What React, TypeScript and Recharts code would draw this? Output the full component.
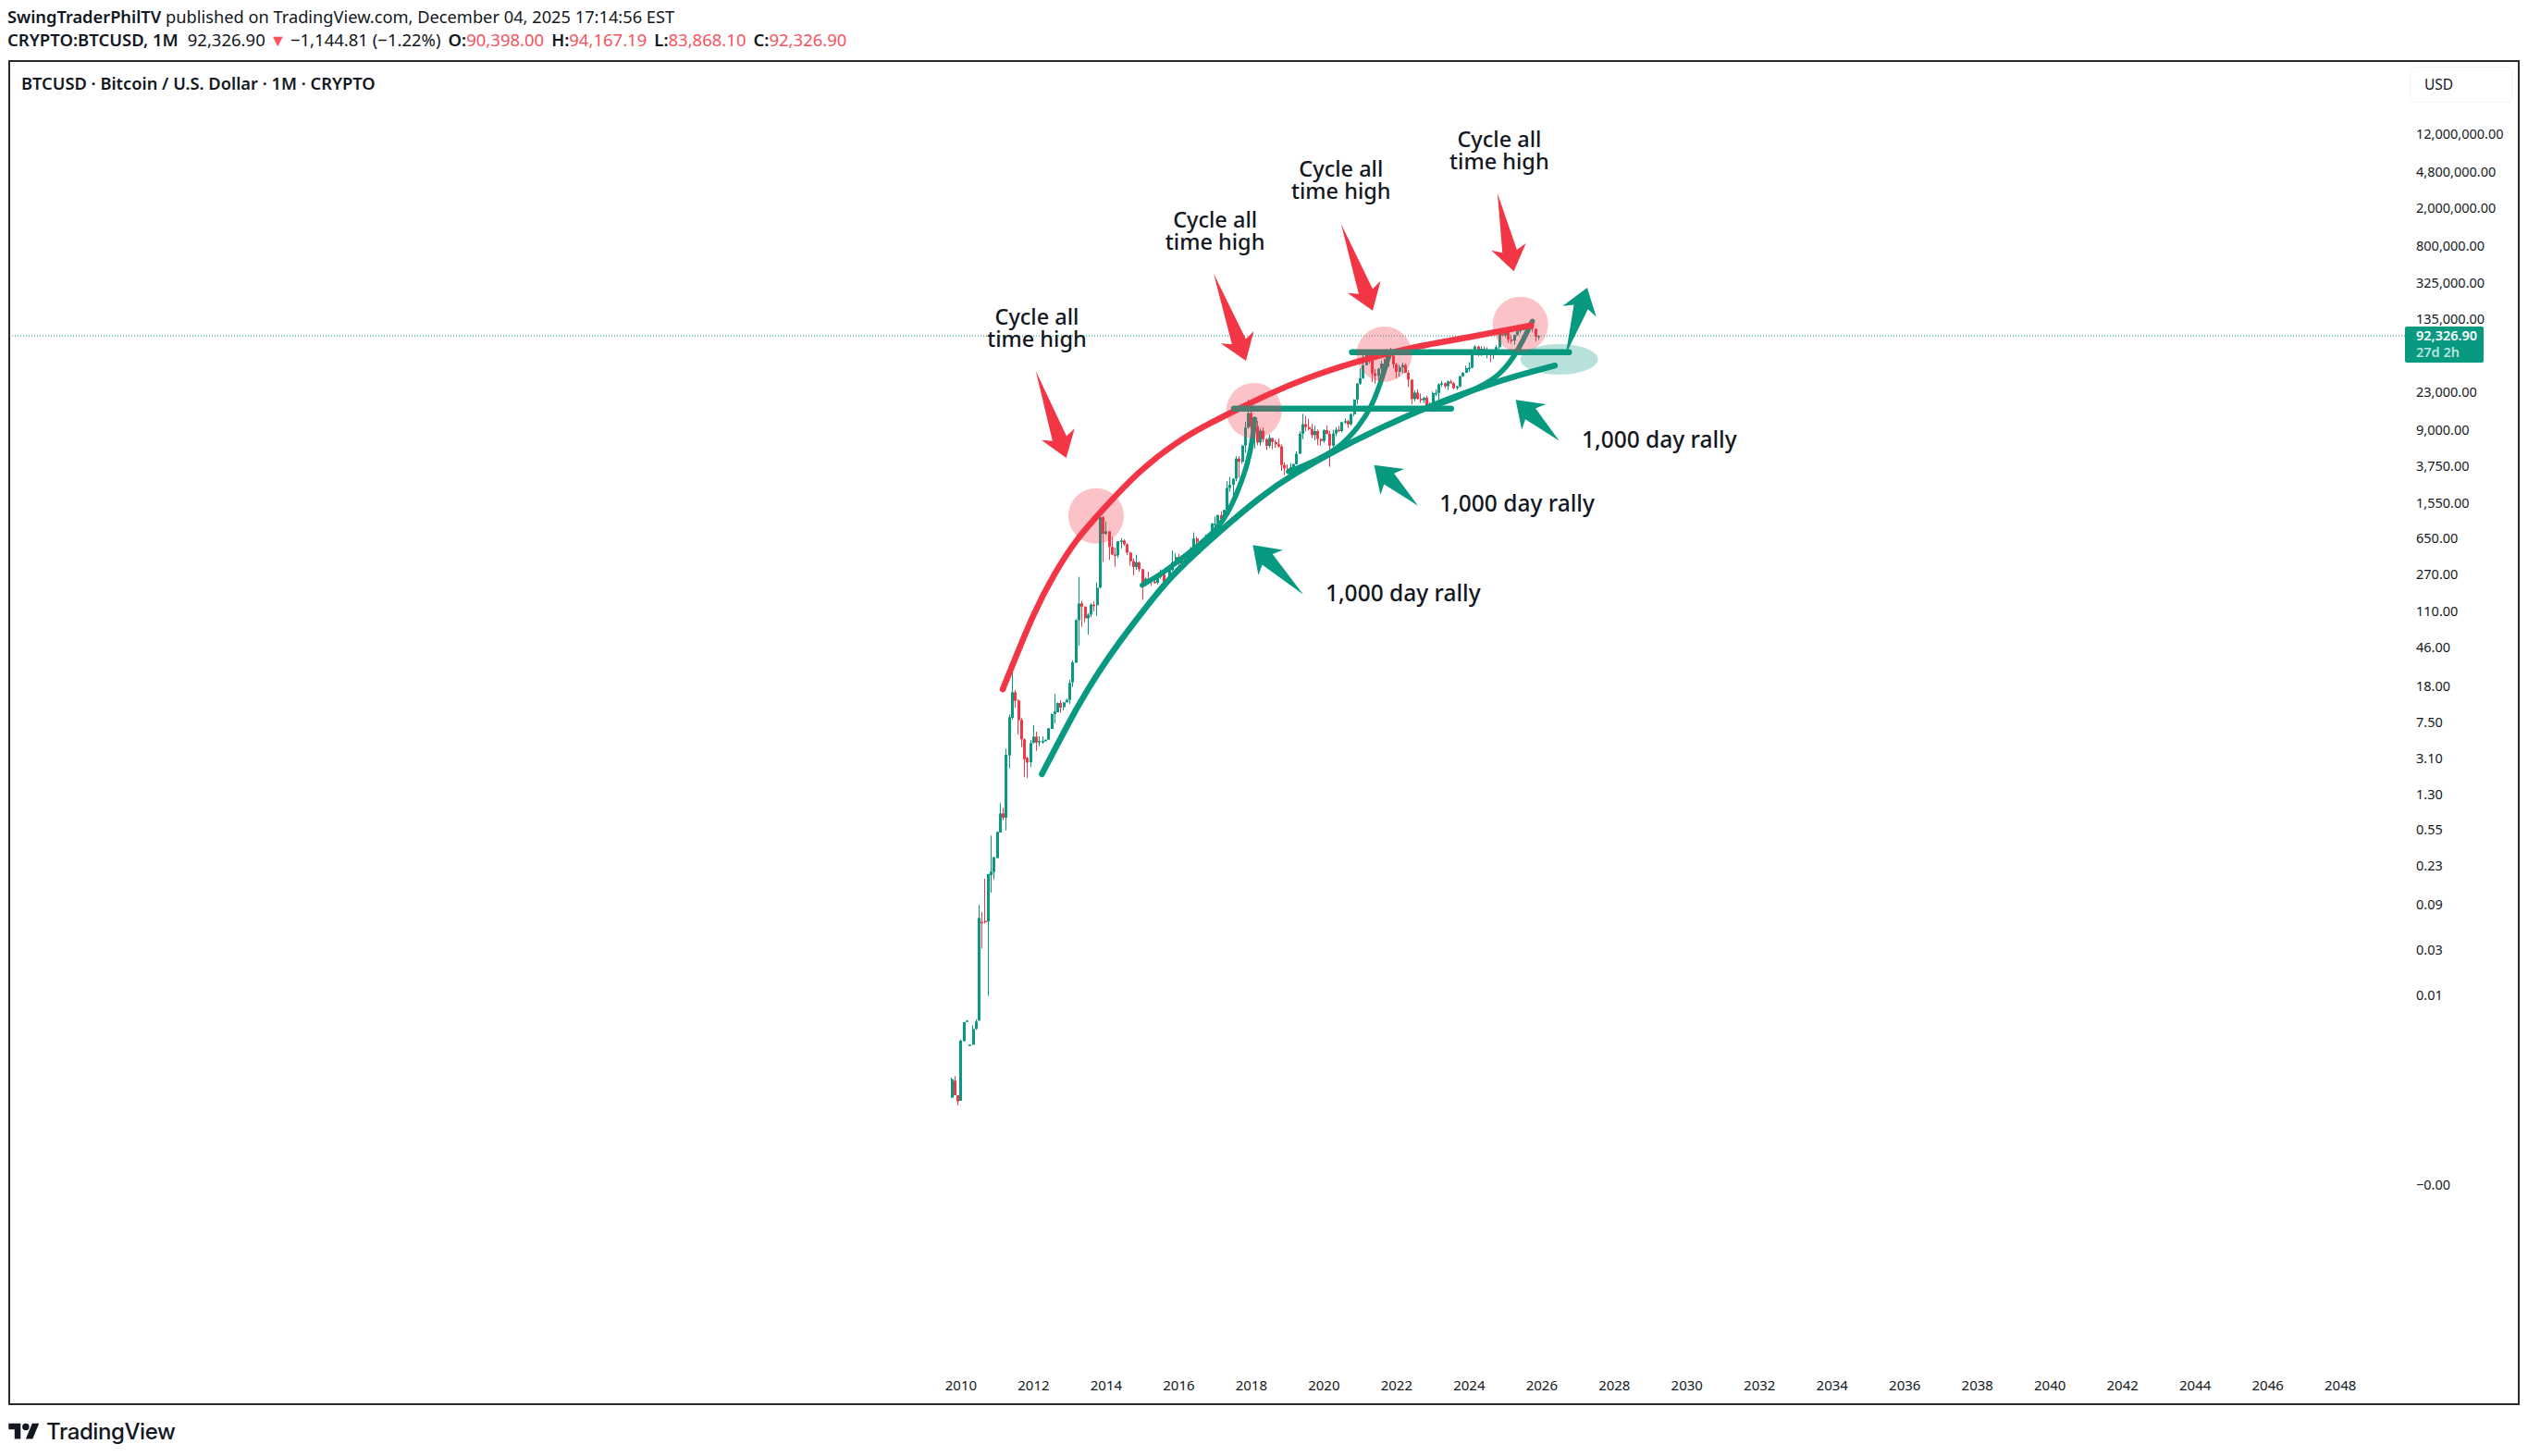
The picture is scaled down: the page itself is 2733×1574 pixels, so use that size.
import {
  Bar,
  ComposedChart,
  Line,
  ReferenceDot,
  ReferenceLine,
  XAxis,
  YAxis,
} from "recharts";

const UP = "#089981";
const DOWN = "#F23645";
const FONT = "'Noto Sans', sans-serif";

// Monthly candles, oldest first. The first one sits three months before the 2010 tick.
const firstCandleYear = 2009.75;
const opens = [
  0.000853, 0.001288, 0.000906, 0.000791, 0.00336, 0.00555, 0.00309, 0.00309, 0.00453, 0.00555, 0.061, 0.0624,
  0.0614, 0.19, 0.205, 0.287, 0.534, 0.849, 0.766, 3.47, 8.66, 16.1, 13.2, 8.22, 5.13, 3.27, 2.94, 4.69, 5.48, 4.86,
  4.86, 4.9, 5.09, 6.61, 9.48, 9.91, 12.4, 11.2, 12.6, 13.4, 20.5, 33,
  93, 139, 129, 97, 106, 135, 133, 204, 1129,
  754, 802, 549, 457, 447, 630, 640, 586, 478, 388, 338, 378,
  320, 217, 254, 244, 236, 230, 263, 284, 231, 236, 314, 377,
  430, 369, 437, 416, 448, 531, 673, 621, 575, 609, 700, 745,
  965, 965, 1190, 1079, 1350, 2300, 2480, 2875, 4700, 4340, 6450, 9950,
  14150, 10200, 10300, 6930, 9240, 7500, 6390, 7730, 7030, 6630, 6300, 4020,
  3690, 3430, 3820, 4100, 5270, 8570, 10820, 10080, 9600, 8300, 9150, 7560,
  7190, 9350, 8540, 6420, 8630, 9450, 9140, 11350, 11660, 10780, 13800, 19700,
  29000, 33100, 45200, 58800, 57700, 37300, 35000, 41500, 47100, 43800, 61300, 57000,
  46300, 38500, 43200, 45500, 37700, 31800, 19900, 23300, 20050, 19400, 20500, 17200,
  16550, 23100, 23150, 28450, 29250, 27200, 30450, 29200, 25950, 27000, 34650, 37700,
  42250, 42580, 61200, 71300, 60600, 67500, 62700, 64600, 58970, 63300, 70200, 96400,
  93400, 102400, 84350, 82500, 94200, 104600, 107100, 115700, 108200, 114000, 109500, 90398,
];
const highs = [
  0.001387, 0.001442, 0.000906, 0.00348, 0.00535, 0.00555, 0.00309, 0.00495, 0.00575, 0.0918, 0.0774, 0.174,
  0.1945, 0.495, 0.294, 0.542, 1.09, 0.973, 4.09, 9.4, 32.8, 17, 13.6, 8.6, 5.25, 3.37, 5.05, 7.23, 6.18, 5.52,
  5.52, 5.09, 6.71, 9.62, 15.5, 12.6, 13.2, 12.6, 13.8, 21.8, 34.8, 95,
  266, 147, 129, 110, 140, 146, 232, 1163, 1163,
  1021, 805, 700, 540, 630, 680, 660, 600, 490, 415, 455, 385,
  320, 265, 300, 262, 247, 268, 318, 285, 247, 335, 503, 470,
  463, 450, 445, 470, 550, 780, 705, 620, 630, 745, 760, 985,
  1150, 1200, 1300, 1350, 2700, 3000, 2920, 4980, 4980, 6470, 11500, 19780,
  17250, 11700, 11700, 9750, 10000, 7760, 8480, 7760, 7400, 7680, 6600, 4300,
  4070, 4200, 4150, 5600, 9100, 13900, 13200, 12300, 10900, 10400, 9500, 7700,
  9580, 10500, 9200, 9480, 10080, 10400, 11450, 12480, 12100, 14100, 19800, 29300,
  41900, 58300, 61800, 64900, 59500, 41300, 42400, 50500, 52900, 67000, 69000, 59000,
  47900, 45800, 48200, 47500, 40000, 32400, 24700, 25200, 22800, 21000, 21500, 18400,
  23900, 25250, 29200, 31000, 29800, 31400, 31800, 30200, 27500, 35000, 38400, 44700,
  48900, 64000, 73800, 72800, 71900, 71900, 70000, 65600, 66500, 73600, 99800, 108300,
  109400, 102800, 95000, 95700, 111900, 110500, 123100, 124400, 117900, 126200, 110600, 94167.19,
];
const lows = [
  0.000853, 0.000906, 0.000708, 0.000791, 0.00336, 0.00555, 0.00309, 0.00309, 0.00443, 0.00555, 0.0322, 0.0586,
  0.0101, 0.124, 0.171, 0.287, 0.534, 0.72, 0.562, 2.54, 8.28, 11.1, 5.78, 4.25, 2.06, 2.01, 2.63, 4.69, 3.88, 4.35,
  4.61, 4.9, 5.09, 6.61, 7.62, 9.91, 9.77, 10.4, 12.6, 12.1, 18.3, 33,
  50, 79, 88, 65, 100, 115, 103, 200, 380,
  735, 400, 450, 340, 420, 530, 565, 450, 350, 275, 315, 300,
  152, 212, 236, 214, 225, 220, 253, 200, 225, 235, 305, 349,
  350, 365, 390, 414, 440, 530, 470, 465, 570, 605, 685, 735,
  750, 925, 890, 1070, 1350, 2100, 1830, 2700, 2950, 4150, 5400, 9700,
  9400, 6000, 6500, 6430, 7000, 5780, 6070, 5880, 6100, 6100, 3480, 3130,
  3350, 3370, 3770, 4050, 5270, 7500, 9100, 9300, 7700, 7300, 6500, 6430,
  6850, 8450, 3850, 6150, 8100, 8900, 8900, 10900, 9850, 10400, 13200, 17600,
  28200, 32400, 45100, 47000, 30000, 28800, 29300, 37300, 39600, 43300, 53000, 42000,
  33000, 34300, 37200, 37600, 26700, 17600, 18800, 19600, 18200, 18200, 15500, 16300,
  16500, 21400, 19600, 26900, 25800, 24800, 29000, 25300, 24900, 26550, 34100, 37600,
  38500, 41900, 59300, 56500, 56600, 58400, 53500, 49000, 52500, 58900, 66800, 91300,
  89100, 78200, 76600, 74500, 93400, 98300, 105100, 107300, 107300, 102000, 80600, 83868.1,
];
const closes = [
  0.001337, 0.000906, 0.00078, 0.00341, 0.00535, 0.00555, 0.00309, 0.00453, 0.00542, 0.0671, 0.0596, 0.0604,
  0.1945, 0.2065, 0.294, 0.542, 0.849, 0.766, 3.52, 8.79, 16.1, 13.06, 8.15, 5.13, 3.18, 2.92, 4.69, 5.48, 4.75, 4.94,
  4.94, 5.09, 6.71, 9.48, 10.07, 12.4, 11.1, 12.6, 13.4, 20.2, 33.3, 93,
  139, 129, 97, 106, 135, 133, 204, 1129, 754,
  802, 549, 457, 447, 630, 640, 586, 478, 388, 338, 378, 320,
  217, 254, 244, 236, 230, 263, 284, 231, 236, 314, 377, 430,
  369, 437, 416, 448, 531, 673, 621, 575, 609, 700, 745, 965,
  965, 1190, 1079, 1350, 2300, 2480, 2875, 4700, 4340, 6450, 9950, 14150,
  10200, 10300, 6930, 9240, 7500, 6390, 7730, 7030, 6630, 6300, 4020, 3690,
  3430, 3820, 4100, 5270, 8570, 10820, 10080, 9600, 8300, 9150, 7560, 7190,
  9350, 8540, 6420, 8630, 9450, 9140, 11350, 11660, 10780, 13800, 19700, 29000,
  33100, 45200, 58800, 57700, 37300, 35000, 41500, 47100, 43800, 61300, 57000, 46300,
  38500, 43200, 45500, 37700, 31800, 19900, 23300, 20050, 19400, 20500, 17200, 16550,
  23100, 23150, 28450, 29250, 27200, 30450, 29200, 25950, 27000, 34650, 37700, 42250,
  42580, 61200, 71300, 60600, 67500, 62700, 64600, 58970, 63300, 70200, 96400, 93400,
  102400, 84350, 82500, 94200, 104600, 107100, 115700, 108200, 114000, 109500, 90398, 92326.9,
];

const lastPrice = 92326.9;
const yTicks = [
  12000000, 4800000, 2000000, 800000, 325000, 135000, 23000, 9000, 3750, 1550, 650, 270, 110, 46, 18, 7.5, 3.1, 1.3,
  0.55, 0.23, 0.09, 0.03, 0.01, 0.0001,
];
const yLabels = [
  "12,000,000.00", "4,800,000.00", "2,000,000.00", "800,000.00", "325,000.00", "135,000.00", "23,000.00", "9,000.00",
  "3,750.00", "1,550.00", "650.00", "270.00", "110.00", "46.00", "18.00", "7.50", "3.10", "1.30",
  "0.55", "0.23", "0.09", "0.03", "0.01", "\u22120.00",
];
const yearTicks = [
  2010, 2012, 2014, 2016, 2018, 2020, 2022, 2024, 2026, 2028, 2030, 2032, 2034, 2036, 2038, 2040, 2042, 2044, 2046, 2048,
];

// Hand-drawn trend curves, as [year, price] pairs
const toPoints = (pairs: number[][]) => pairs.map(([date, price]) => ({ date, price }));
const topArc = toPoints([
  [2011.15, 17.3], [2011.48, 35.6], [2012.0, 110], [2012.57, 288], [2013.17, 658], [2013.85, 1288], [2014.87, 3412],
  [2015.97, 7211], [2016.9, 11300], [2017.58, 15240], [2018.43, 22130], [2019.54, 33500], [2020.81, 48640],
  [2022.43, 70800], [2023.95, 88500], [2025.71, 119400],
]);
const baseArc = toPoints([
  [2012.23, 2.21], [2013.16, 10.7], [2013.76, 25.5], [2014.36, 54.7], [2015.25, 152], [2015.89, 298], [2017.16, 828],
  [2018.26, 1871], [2019.11, 3162], [2020.8, 7211], [2022.51, 14690], [2024.34, 26900],
  [2025.26, 34670], [2026.36, 44870],
]);
const rally2017 = toPoints([
  [2014.99, 217], [2015.55, 288], [2016.31, 486], [2017.16, 885], [2017.58, 1871], [2017.92, 4266], [2018.05, 8375],
  [2018.09, 12270],
]);
const rally2021 = toPoints([
  [2019.02, 3412], [2019.78, 4467], [2020.47, 6252], [2020.98, 10470], [2021.31, 16440], [2021.57, 30130],
  [2021.79, 57800],
]);
const rally2025 = toPoints([
  [2022.93, 16440], [2023.6, 19820], [2024.37, 27730], [2024.8, 34670], [2025.23, 54450], [2025.52, 88500],
  [2025.74, 131800],
]);
const supportLow = toPoints([[2017.52, 15810], [2023.5, 15810]]);
const supportHigh = toPoints([[2020.77, 62230], [2026.75, 62230]]);

const peakCircles = toPoints([[2013.72, 1167], [2018.07, 15030], [2021.66, 59200], [2025.41, 122000]]);
const targetZone = toPoints([[2026.48, 52300]]);

const redArrows = [
  [2012.06, 39450, 2012.9, 4775],
  [2016.96, 419800, 2017.85, 50470],
  [2020.47, 1403000, 2021.34, 171000],
  [2024.78, 2944000, 2025.23, 443600],
];
const greenArrows = [
  [2019.43, 173, 2018.04, 574],
  [2022.59, 1496, 2021.38, 4018],
  [2026.48, 7211, 2025.28, 19540],
  [2026.66, 59150, 2027.25, 297800],
];
const peakNotes = [
  { date: 2012.09, price: 109600 },
  { date: 2017.0, price: 1172000 },
  { date: 2020.47, price: 3990000 },
  { date: 2024.83, price: 8280000 },
];
const rallyNotes = [
  { date: 2020.04, price: 176 },
  { date: 2023.18, price: 1535 },
  { date: 2027.1, price: 7311 },
];

const candles = opens.map((open, i) => ({
  date: firstCandleYear + i / 12,
  up: closes[i] >= open,
  body: [Math.min(open, closes[i]), Math.max(open, closes[i])],
  wick: [lows[i], highs[i]],
}));

const xDomain = [1983.78, 2049.78];
const yDomain = [1.096e-6, 7.31e7];

// Drawn from the two scaled end points, thin at the tail and barbed at the tip.
function arrowShape(fill: string) {
  return function Arrow({ x1, y1, x2, y2 }: any) {
    const len = Math.hypot(x2 - x1, y2 - y1);
    const ux = (x2 - x1) / len;
    const uy = (y2 - y1) / len;
    const at = (back: number, side: number) =>
      `${x2 - ux * back - uy * side},${y2 - uy * back + ux * side}`;
    const points = [
      at(len, 0), at(22, 8), at(27, 19), at(0, 0), at(27, -19), at(22, -8),
    ].join(" ");
    return <polygon points={points} fill={fill} />;
  };
}

function candleShape(barWidth: number, minHeight: number) {
  return function Candle({ x, y, width, height, payload }: any) {
    const h = Math.max(Math.abs(height), minHeight);
    const top = height < 0 ? y + height : y;
    return (
      <rect
        x={Math.round(x + width / 2 - barWidth / 2)}
        y={top}
        width={barWidth}
        height={h}
        fill={payload.up ? UP : DOWN}
      />
    );
  };
}

function PriceTag({ viewBox }: any) {
  const left = viewBox.x + viewBox.width;
  const y = viewBox.y;
  return (
    <g fontFamily={FONT} fontSize={14.5}>
      <rect x={left} y={y - 10} width={85} height={39} rx={2} fill={UP} />
      <text x={left + 12} y={y + 5} fill="#fff" fontWeight={600}>92,326.90</text>
      <text x={left + 12} y={y + 23} fill="#b9e4dc" fontWeight={600}>27d 2h</text>
    </g>
  );
}

function PeakNote({ cx, cy }: any) {
  return (
    <text textAnchor="middle" fontFamily={FONT} fontSize={23.5} fontWeight={500} fill="#131722">
      <tspan x={cx} y={cy - 4}>Cycle all</tspan>
      <tspan x={cx} y={cy + 20}>time high</tspan>
    </text>
  );
}

function RallyNote({ cx, cy }: any) {
  return (
    <text x={cx} y={cy + 8} fontFamily={FONT} fontSize={24.5} fontWeight={500} fill="#131722">
      1,000 day rally
    </text>
  );
}

function Logo() {
  return (
    <div style={{ position: "absolute", left: 9, top: 1533, display: "flex", alignItems: "center" }}>
      <svg width={34} height={26} viewBox="0 0 36 28" fill="#131722">
        <path d="M14 22H7V11H0V4h14v18zM28 22h-8l7.5-18h8L28 22z" />
        <circle cx="20" cy="8" r="4" />
      </svg>
      <span style={{ marginLeft: 7, fontFamily: "Inter, sans-serif", fontSize: 24, fontWeight: 500, color: "#131722", letterSpacing: -0.4 }}>
        TradingView
      </span>
    </div>
  );
}

const line = (name: string, data: any[], color: string, width: number, curve: any = "basis") => (
  <Line
    key={name}
    xAxisId="price"
    data={data}
    dataKey="price"
    type={curve}
    stroke={color}
    strokeWidth={width}
    strokeLinecap="round"
    dot={false}
    activeDot={false}
    legendType="none"
    isAnimationActive={false}
  />
);

// Translucent blobs go through a Line so they stack between the curves by child order;
// ReferenceDot always lands above every Line.
const blobs = (name: string, data: any[], draw: (cx: number, cy: number) => any) => (
  <Line
    key={name}
    xAxisId="price"
    data={data}
    dataKey="price"
    stroke="none"
    activeDot={false}
    legendType="none"
    isAnimationActive={false}
    dot={(p: any) => <g key={p.index}>{draw(p.cx, p.cy)}</g>}
  />
);

export default function App() {
  return (
    <div style={{ position: "absolute", left: 0, top: 0, width: 2733, height: 1574, background: "#fff", overflow: "hidden" }}>
      <div style={{ position: "absolute", left: 8, top: 5, fontFamily: FONT, fontSize: 18.25, color: "#131722", whiteSpace: "nowrap" }}>
        <b style={{ fontWeight: 600 }}>SwingTraderPhilTV</b> published on TradingView.com, December 04, 2025 17:14:56 EST
      </div>
      <div style={{ position: "absolute", left: 8, top: 30, fontFamily: FONT, fontSize: 18.5, color: "#131722", whiteSpace: "nowrap" }}>
        <b style={{ fontWeight: 600 }}>CRYPTO:BTCUSD, 1M</b>
        <span style={{ marginLeft: 10 }}>92,326.90</span>
        <span style={{ color: "#F7525F", fontSize: 18 }}> {"\u25BC"} </span>
        {"\u22121,144.81 (\u22121.22%)"}
        <b style={{ fontWeight: 600, marginLeft: 8 }}>O:</b><span style={{ color: "#F7525F" }}>90,398.00</span>
        <b style={{ fontWeight: 600, marginLeft: 8 }}>H:</b><span style={{ color: "#F7525F" }}>94,167.19</span>
        <b style={{ fontWeight: 600, marginLeft: 8 }}>L:</b><span style={{ color: "#F7525F" }}>83,868.10</span>
        <b style={{ fontWeight: 600, marginLeft: 8 }}>C:</b><span style={{ color: "#F7525F" }}>92,326.90</span>
      </div>

      <ComposedChart
        width={2733}
        height={1574}
        data={candles}
        margin={{ top: 66, right: 12, bottom: 57, left: 10 }}
        style={{ position: "absolute", left: 0, top: 0 }}
      >
        <XAxis
          xAxisId="price"
          dataKey="date"
          type="number"
          domain={xDomain}
          ticks={yearTicks}
          interval={0}
          allowDataOverflow
          height={34}
          axisLine={false}
          tickLine={false}
          tick={{ fill: "#131722", fontSize: 15, fontFamily: FONT, dy: 1 }}
        />
        <XAxis xAxisId="wick" dataKey="date" type="number" domain={xDomain} allowDataOverflow hide />
        <YAxis
          orientation="right"
          scale="log"
          domain={yDomain}
          ticks={yTicks}
          interval={0}
          allowDataOverflow
          width={121}
          axisLine={false}
          tickLine={false}
          tickSize={0}
          tickMargin={12}
          tick={{ fill: "#131722", fontSize: 14.5, fontFamily: FONT, dy: -1.5 }}
          tickFormatter={(v: number) => yLabels[yTicks.indexOf(v)]}
        />

        <ReferenceLine
          xAxisId="price"
          y={lastPrice}
          stroke={UP}
          strokeDasharray="1 2"
          label={(props: any) => <PriceTag {...props} />}
        />

        <Bar xAxisId="wick" dataKey="wick" barSize={1} shape={candleShape(1, 1)} isAnimationActive={false} />
        <Bar xAxisId="price" dataKey="body" barSize={3} shape={candleShape(3, 1.5)} isAnimationActive={false} />

        {line("rally2017", rally2017, UP, 5.5)}
        {line("rally2021", rally2021, UP, 5.5)}
        {line("rally2025", rally2025, UP, 5.5)}

        {blobs("peaks", peakCircles, (cx, cy) => <circle cx={cx} cy={cy} r={30} fill={DOWN} fillOpacity={0.3} />)}
        {blobs("zone", targetZone, (cx, cy) => <ellipse cx={cx} cy={cy} rx={42} ry={16.5} fill={UP} fillOpacity={0.29} />)}

        {line("topArc", topArc, DOWN, 6.5)}
        {line("baseArc", baseArc, UP, 6.5)}
        {line("supportLow", supportLow, UP, 6.5, "linear")}
        {line("supportHigh", supportHigh, UP, 6.5, "linear")}

        {redArrows.map((a, i) => (
          <ReferenceLine
            key={i}
            xAxisId="price"
            segment={[{ x: a[0], y: a[1] }, { x: a[2], y: a[3] }]}
            shape={arrowShape(DOWN)}
          />
        ))}
        {greenArrows.map((a, i) => (
          <ReferenceLine
            key={i}
            xAxisId="price"
            segment={[{ x: a[0], y: a[1] }, { x: a[2], y: a[3] }]}
            shape={arrowShape(UP)}
          />
        ))}
        {peakNotes.map((n, i) => (
          <ReferenceDot key={i} xAxisId="price" x={n.date} y={n.price} shape={PeakNote} />
        ))}
        {rallyNotes.map((n, i) => (
          <ReferenceDot key={i} xAxisId="price" x={n.date} y={n.price} shape={RallyNote} />
        ))}
      </ComposedChart>

      {/* chart frame, title and currency chip sit over the svg */}
      <div style={{ position: "absolute", left: 9, top: 65, width: 2711, height: 1450, border: "2px solid #2a2a2a", pointerEvents: "none" }} />
      <div style={{ position: "absolute", left: 23, top: 77, fontFamily: FONT, fontSize: 18.3, fontWeight: 600, color: "#131722", whiteSpace: "nowrap" }}>
        BTCUSD · Bitcoin / U.S. Dollar · 1M · CRYPTO
      </div>
      <div style={{ position: "absolute", left: 2605, top: 72, width: 109, height: 37, border: "1px solid #f0f3fa", borderRadius: 6, fontFamily: FONT, fontSize: 15.5, lineHeight: "37px", color: "#131722", textIndent: 15 }}>
        USD
      </div>
      <Logo />
    </div>
  );
}
